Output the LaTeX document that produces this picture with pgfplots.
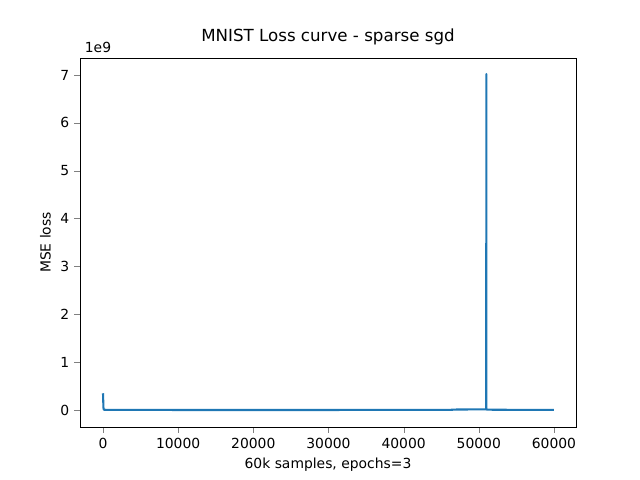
\documentclass[border=0pt]{standalone}
\usepackage{fontspec}
\setmainfont{DejaVu Sans}
\usepackage{pgfplots}
\pgfplotsset{compat=1.18}
\begin{document}
\begin{tikzpicture}
\path[use as bounding box] (-57.6pt,-38.16pt) rectangle (403.2pt,307.44pt);
\begin{axis}[at={(0,0)},anchor=south west,scale only axis,width=357.12pt,height=265.68pt,
 xmin=-3060,xmax=62930,ymin=-0.355,ymax=7.355,
 xtick={0,10000,...,60000},ytick={0,1,...,7},
 scaled x ticks=false,
 xticklabel style={/pgf/number format/.cd,fixed,1000 sep={}},
 /pgf/number format/assume math mode=true,
 tick align=outside,tick pos=left,
 ticklabel style={font=\fontsize{10}{12}\selectfont},
 xlabel={60k samples, epochs=3},ylabel={MSE loss},
 label style={font=\fontsize{10}{12}\selectfont},
 title={MNIST Loss curve - sparse sgd},
 title style={font=\fontsize{12}{14}\selectfont},
 clip=false]
\addplot[color={rgb,255:red,31;green,119;blue,180},line width=1.5pt,line join=round,mark=none] coordinates {
(0,0.35)(30,0.2)(60,0.05)(100,0.01)(200,0.005)(1000,0.002)(10000,0.001)(30000,0.001)(46000,0.002)(47000,0.01)(49000,0.012)(50990,0.015)(51000,7.02)(51010,0.01)(52000,0.005)(60000,0.003)};
\node[anchor=south west,font=\fontsize{10}{12}\selectfont] at (rel axis cs:0,1) {1e9};
\end{axis}
\end{tikzpicture}
\end{document}
